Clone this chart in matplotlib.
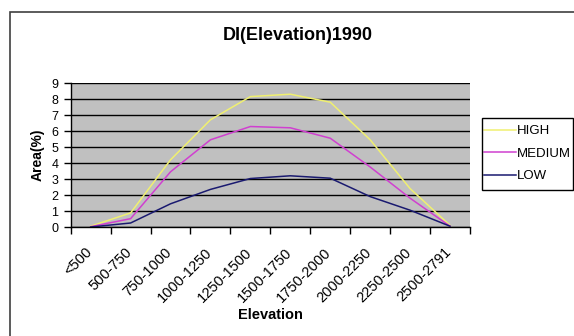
import numpy as np
import matplotlib
matplotlib.use("Agg")
import matplotlib.pyplot as plt
from matplotlib.patches import Rectangle
from matplotlib.transforms import ScaledTranslation

plt.rcParams["font.family"] = ["Liberation Sans", "DejaVu Sans"]

categories = ["<500", "500-750", "750-1000", "1000-1250", "1250-1500",
              "1500-1750", "1750-2000", "2000-2250", "2250-2500", "2500-2791"]
high = [0.05, 0.88, 4.2, 6.7, 8.15, 8.3, 7.8, 5.45, 2.4, 0.1]
medium = [0.02, 0.52, 3.45, 5.45, 6.28, 6.2, 5.55, 3.75, 1.8, 0.05]
low = [0.0, 0.25, 1.45, 2.35, 3.03, 3.2, 3.05, 1.9, 1.05, 0.05]
yticks = list(range(10))

fig = plt.figure(figsize=(5.74, 3.36), dpi=100)
W, H = 574, 336

# outer chart border
fig.patches.append(Rectangle((10 / W, -0.1), 1.0, 1 - 12 / H + 0.1,
                             transform=fig.transFigure, fill=False,
                             edgecolor="#404040", linewidth=1.2))

ax = fig.add_axes([70.7 / W, 1 - 227 / H, (470 - 70.7) / W, (227 - 83) / H])
ax.set_facecolor("#C0C0C0")

x = np.arange(len(categories))
ax.plot(x, high, color="#F0F070", linewidth=1.1, label="HIGH")
ax.plot(x, medium, color="#D040D0", linewidth=1.1, label="MEDIUM")
ax.plot(x, low, color="#1A1A70", linewidth=1.1, label="LOW")

ax.set_xlim(-0.5, len(categories) - 0.5)
ax.set_ylim(0, 9)
ax.set_yticks(yticks)
ax.yaxis.grid(True, color="black", linewidth=1.0)
ax.set_axisbelow(True)

# ticks on the category boundaries, labels at the centres
ax.set_xticks(np.arange(len(categories) + 1) - 0.5)
ax.set_xticklabels([])
ax.set_xticks(x, minor=True)
ax.set_xticklabels(categories, minor=True, rotation=45, ha="right",
                   rotation_mode="anchor", fontsize=10.5)
ax.tick_params(axis="x", which="minor", length=0, pad=13)
ax.tick_params(axis="x", which="major", length=5, width=1, color="black")
ax.tick_params(axis="y", length=5, width=1, labelsize=9, pad=4)
shift = ScaledTranslation(-6 / 100, 0, fig.dpi_scale_trans)
for lab in ax.get_xticklabels(minor=True):
    lab.set_transform(lab.get_transform() + shift)

for side in ["top", "right"]:
    ax.spines[side].set_visible(False)
for side in ["left", "bottom"]:
    ax.spines[side].set_color("black")
    ax.spines[side].set_linewidth(1.0)

ax.set_ylabel("Area(%)", fontsize=10, fontweight="bold", labelpad=5)
fig.text(270 / W, 1 - 315 / H, "Elevation", ha="center", va="center",
         fontsize=10.5, fontweight="bold")
fig.text(298 / W, 1 - 35 / H, "DI(Elevation)1990", ha="center", va="center",
         fontsize=13, fontweight="bold")

# legend box drawn separately so its size matches the original
fig.patches.append(Rectangle((482 / W, 1 - 190 / H), 91 / W, 72 / H,
                             transform=fig.transFigure, fill=False,
                             edgecolor="black", linewidth=1.0))
leg = ax.legend(loc="upper left", bbox_to_anchor=(484 / W, 1 - 125 / H),
                bbox_transform=fig.transFigure, fontsize=9.5, frameon=False,
                handlelength=2.4, handletextpad=0.1, borderpad=0,
                labelspacing=0.78, borderaxespad=0)

fig.savefig("out.png", dpi=100)
